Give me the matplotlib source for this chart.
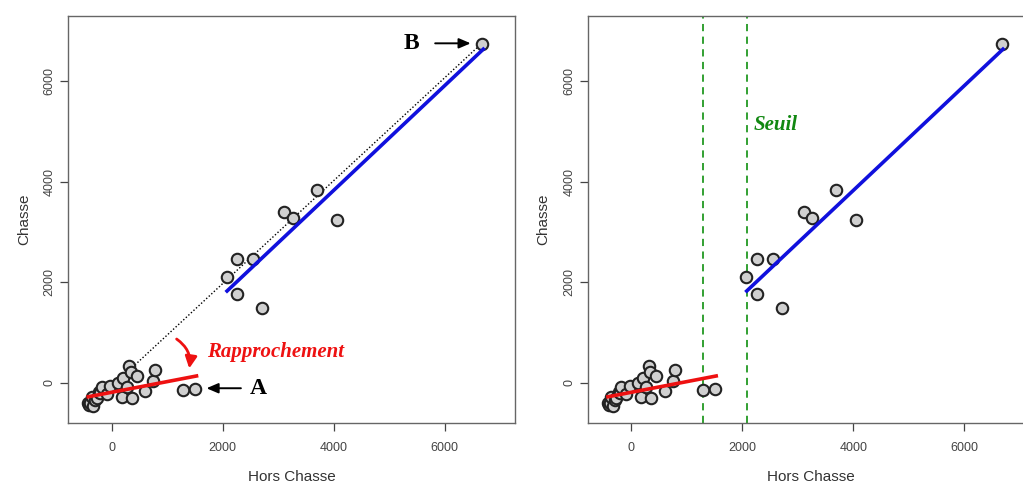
import matplotlib.pyplot as plt

plt.rcParams["font.family"] = ["Liberation Sans", "DejaVu Sans"]

# nuages de points (Hors Chasse, Chasse)
hors_chasse = [
    -420, -400, -391, -360, -331, -300, -270, -223, -210, -180, -90, -31,
    119, 180, 209, 270, 317, 342, 360, 450, 600, 750, 786, 1290, 1500,
    2072, 2264, 2264, 2553, 2709, 3111, 3261, 3694, 4054, 6680,
]
chasse = [
    -413, -447, -412, -280, -466, -350, -312, -180, -213, -92, -232, -60,
    -12, -280, 88, -92, 340, 220, -300, 134, -160, 34, 254, -146, -126,
    2100, 2453, 1773, 2467, 1487, 3407, 3273, 3833, 3233, 6750,
]

# droites ajustees (extremites)
rouge_x = [-420, 1530]
rouge_y = [-280, 134]
bleu_x = [2080, 6697]
bleu_y = [1825, 6637]
pointille_x = [420, 6650]
pointille_y = [353, 6733]
seuils = [1300, 2085]

xlim = (-785, 7270)
ylim = (-802, 7298)
xticks = [0, 2000, 4000, 6000]
yticks = [0, 2000, 4000, 6000]

fig = plt.figure(figsize=(10.23, 4.83), dpi=100)
ax1 = fig.add_axes([0.0665, 0.1242, 0.437, 0.8427])
ax2 = fig.add_axes([0.5745, 0.1242, 0.437, 0.8427])

gris = "#444444"
for ax in (ax1, ax2):
    ax.set_xlim(*xlim)
    ax.set_ylim(*ylim)
    ax.set_xticks(xticks)
    ax.set_yticks(yticks)
    ax.tick_params(colors=gris, labelsize=9, length=6, width=0.9)
    ax.tick_params(axis="x", pad=8)
    ax.tick_params(axis="y", pad=3)
    for lab in ax.get_yticklabels():
        lab.set_rotation(90)
        lab.set_va("center")
    for s in ax.spines.values():
        s.set_color("#666666")
        s.set_linewidth(1.0)
    ax.set_xlabel("Hors Chasse", fontsize=11, color="#333333", labelpad=11)
    ax.set_ylabel("Chasse", fontsize=11, color="#333333", labelpad=9)

# panneau gauche
ax1.plot(pointille_x, pointille_y, color="black", lw=1.0, ls=(0, (1, 1.5)), zorder=2)
ax1.scatter(hors_chasse, chasse, s=68, c="#d0d0d0", edgecolors="#222222",
            linewidths=1.5, zorder=3)
ax1.plot(rouge_x, rouge_y, color="#ee1111", lw=2.6, zorder=4)
ax1.plot(bleu_x, bleu_y, color="#1010dd", lw=2.6, zorder=4)

ax1.text(5411, 6754, "B", family=["Liberation Serif"], fontweight="bold",
         fontsize=17, ha="center", va="center")
ax1.annotate("", xy=(6520, 6754), xytext=(5780, 6754),
             arrowprops=dict(arrowstyle="-|>,head_length=0.7,head_width=0.3",
                             color="black", lw=1.4))
ax1.text(2637, -106, "A", family=["Liberation Serif"], fontweight="bold",
         fontsize=17, ha="center", va="center")
ax1.annotate("", xy=(1660, -110), xytext=(2380, -110),
             arrowprops=dict(arrowstyle="-|>,head_length=0.7,head_width=0.3",
                             color="black", lw=1.4))
ax1.text(1720, 614, "Rapprochement", family=["Liberation Serif"],
         fontweight="bold", style="italic", fontsize=15, color="#ee1111",
         ha="left", va="center")
ax1.annotate("", xy=(1390, 230), xytext=(1130, 900),
             arrowprops=dict(arrowstyle="-|>,head_length=0.7,head_width=0.35",
                             color="#ee1111", lw=2.0,
                             connectionstyle="arc3,rad=-0.35"))

# panneau droit
ax2.scatter(hors_chasse, chasse, s=68, c="#d0d0d0", edgecolors="#222222",
            linewidths=1.5, zorder=3)
ax2.plot(rouge_x, rouge_y, color="#ee1111", lw=2.6, zorder=4)
ax2.plot(bleu_x, bleu_y, color="#1010dd", lw=2.6, zorder=4)
for s in seuils:
    ax2.axvline(s, color="#229922", lw=1.3, ls=(0, (4, 3)), zorder=1)
ax2.text(2200, 5126, "Seuil", family=["Liberation Serif"], fontweight="bold",
         style="italic", fontsize=15, color="#118811", ha="left", va="center")

fig.savefig("out.png", dpi=100)
